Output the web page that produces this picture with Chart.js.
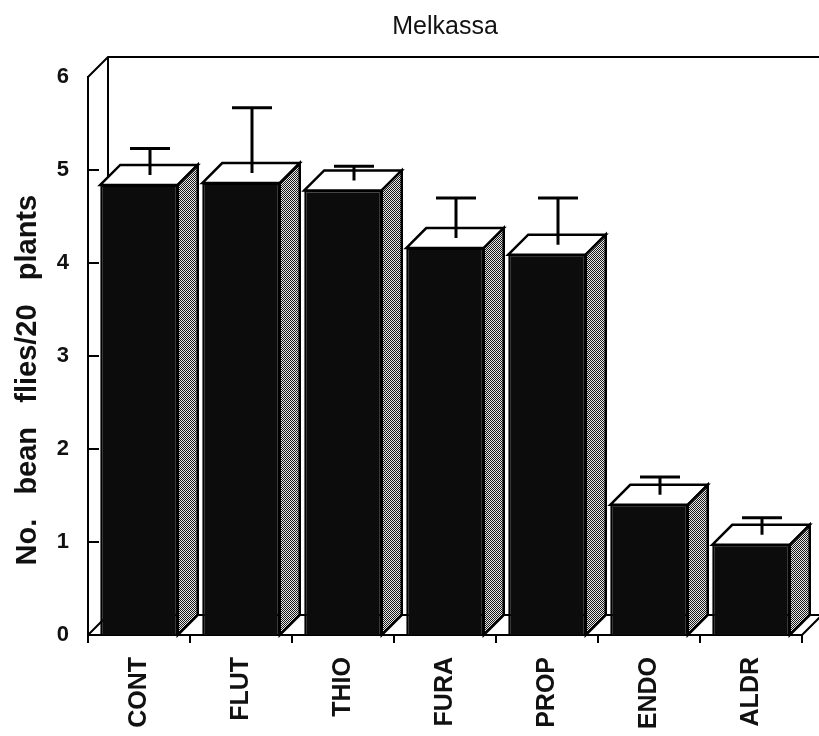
<!DOCTYPE html>
<html lang="en">
<head>
    <meta charset="UTF-8">
    <title>Melkassa</title>
    <script src="https://cdn.jsdelivr.net/npm/chart.js@4.4.0/dist/chart.umd.min.js"></script>
    <style>
        body { margin: 0; background: #fff; }
        canvas { display: block; }
    </style>
</head>
<body>
    <canvas id="chart" width="819" height="736"></canvas>

    <script>
        // data
        const categories = ['CONT', 'FLUT', 'THIO', 'FURA', 'PROP', 'ENDO', 'ALDR'];
        const means = [4.84, 4.86, 4.78, 4.16, 4.09, 1.40, 0.97];
        const stdErr = [0.39, 0.81, 0.26, 0.54, 0.61, 0.30, 0.29];
        const yTicks = [0, 1, 2, 3, 4, 5, 6];

        const FONT = '"Liberation Sans", Arial, Helvetica, sans-serif';
        const DEPTH = 20;

        // grey dotted fill for the side faces
        function makePattern() {
            const c = document.createElement('canvas');
            c.width = 2; c.height = 2;
            const g = c.getContext('2d');
            g.fillStyle = '#e6e6e6';
            g.fillRect(0, 0, 2, 2);
            g.fillStyle = '#1a1a1a';
            g.fillRect(0, 0, 1, 1);
            g.fillRect(1, 1, 1, 1);
            return g.createPattern(c, 'repeat');
        }
        const sidePattern = makePattern();

        const threeD = {
            id: 'threeD',
            beforeDatasetsDraw(chart) {
                const { ctx, chartArea: { left, right, top, bottom } } = chart;
                const D = DEPTH;
                ctx.save();
                ctx.strokeStyle = '#000';
                ctx.lineWidth = 2;
                ctx.beginPath();
                // back wall and floor
                ctx.moveTo(left, top);
                ctx.lineTo(left + D, top - D);
                ctx.lineTo(chart.width + 5, top - D);
                ctx.moveTo(left + D, top - D);
                ctx.lineTo(left + D, bottom - D);
                ctx.lineTo(right + D, bottom - D);
                ctx.lineTo(right, bottom);
                ctx.moveTo(left, bottom);
                ctx.lineTo(left + D, bottom - D);
                // inward tick marks on the y axis
                const yScale = chart.scales.y;
                yTicks.forEach(v => {
                    if (v === 0 || v === 6) return;
                    const py = yScale.getPixelForValue(v);
                    ctx.moveTo(left, py);
                    ctx.lineTo(left + 11, py);
                });
                ctx.stroke();
                ctx.restore();
            },
            afterDatasetsDraw(chart) {
                const { ctx } = chart;
                const yScale = chart.scales.y;
                const D = DEPTH;
                const meta = chart.getDatasetMeta(0);
                ctx.save();
                ctx.strokeStyle = '#000';
                ctx.lineJoin = 'miter';
                meta.data.forEach((bar, i) => {
                    const { x, y, base, width } = bar.getProps(['x', 'y', 'base', 'width'], true);
                    const l = x - width / 2, r = x + width / 2;

                    // top face
                    ctx.lineWidth = 2.5;
                    ctx.beginPath();
                    ctx.moveTo(l, y);
                    ctx.lineTo(l + D, y - D);
                    ctx.lineTo(r + D, y - D);
                    ctx.lineTo(r, y);
                    ctx.closePath();
                    ctx.fillStyle = '#fff';
                    ctx.fill();
                    ctx.stroke();

                    // side face
                    ctx.beginPath();
                    ctx.moveTo(r, y);
                    ctx.lineTo(r + D, y - D);
                    ctx.lineTo(r + D, base - D);
                    ctx.lineTo(r, base);
                    ctx.closePath();
                    ctx.fillStyle = sidePattern;
                    ctx.fill();
                    ctx.stroke();

                    // error bar (upper half only)
                    const ex = x + D / 2 + 1;
                    const ey = yScale.getPixelForValue(means[i] + stdErr[i]);
                    ctx.lineWidth = 3;
                    ctx.beginPath();
                    ctx.moveTo(ex, y - D / 2);
                    ctx.lineTo(ex, ey);
                    ctx.moveTo(ex - 20, ey);
                    ctx.lineTo(ex + 20, ey);
                    ctx.stroke();
                });
                ctx.restore();
            }
        };

        new Chart(document.getElementById('chart'), {
            type: 'bar',
            data: {
                labels: categories,
                datasets: [{
                    data: means,
                    backgroundColor: '#0c0c0c',
                    borderColor: '#000',
                    borderWidth: 2,
                    barPercentage: 0.76,
                    categoryPercentage: 1
                }]
            },
            options: {
                responsive: false,
                animation: false,
                layout: { padding: { left: 0, right: 17, top: 0, bottom: 0 } },
                plugins: {
                    legend: { display: false },
                    tooltip: { enabled: false },
                    title: {
                        display: true,
                        fullSize: false,
                        text: 'Melkassa',
                        color: '#111',
                        font: { family: FONT, size: 25, weight: 'normal' },
                        padding: { top: 12, bottom: 35 }
                    }
                },
                scales: {
                    x: {
                        afterFit(scale) { scale.height = 101; },
                        grid: {
                            display: true,
                            drawOnChartArea: false,
                            drawTicks: true,
                            tickLength: 8,
                            color: '#000',
                            lineWidth: 2
                        },
                        border: { display: true, color: '#000', width: 2 },
                        ticks: {
                            color: '#111',
                            autoSkip: false,
                            minRotation: 90,
                            maxRotation: 90,
                            padding: 14,
                            font: { family: FONT, size: 25, weight: 'bold' }
                        }
                    },
                    y: {
                        min: 0,
                        max: 6,
                        afterFit(scale) { scale.width = 88; },
                        afterBuildTicks(scale) {
                            scale.ticks = yTicks.map(v => ({ value: v }));
                        },
                        grid: { display: false },
                        border: { display: true, color: '#000', width: 2 },
                        ticks: {
                            color: '#111',
                            padding: 11,
                            font: { family: FONT, size: 22, weight: 'bold' }
                        },
                        title: {
                            display: true,
                            // trailing spaces push the label down, as in the original
                            text: 'No.   bean   flies/20   plants      ',
                            color: '#111',
                            font: { family: FONT, size: 29, weight: 'bold' },
                            padding: { top: 11, bottom: 0 }
                        }
                    }
                }
            },
            plugins: [threeD]
        });
    </script>
</body>
</html>
